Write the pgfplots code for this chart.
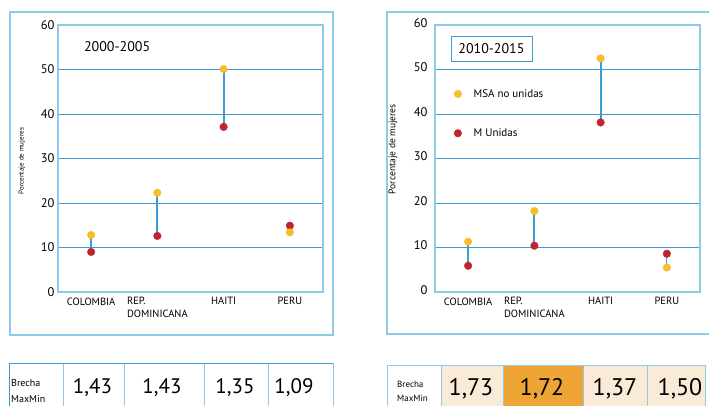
\documentclass[border=0pt]{standalone}
\usepackage{fontspec}
\setmainfont{PT Sans}
\usepackage{pgfplots}
\pgfplotsset{compat=1.18}
\definecolor{gridblue}{HTML}{3A9BD5}
\definecolor{frameblue}{HTML}{8DCAE8}
\definecolor{dotyellow}{HTML}{F6BE28}
\definecolor{dotred}{HTML}{BF2530}
\definecolor{cream}{HTML}{FAEBD8}
\definecolor{orangec}{HTML}{EEA535}
\pgfplotsset{
  dumb/.style={
    scale only axis, width=265pt, height=267pt,
    xmin=-0.5, xmax=3.5, ymin=0, ymax=60,
    ytick={0,10,...,60},
    xtick={0,1,2,3},
    xticklabels={COLOMBIA,{REP.\\DOMINICANA},HAITI,PERU},
    ymajorgrids, grid style={gridblue, line width=0.9pt},
    axis line style={frameblue, line width=1.1pt},
    major tick length=0pt,
    yticklabel style={font=\fontsize{12.5}{14}\selectfont},
    xticklabel style={font=\fontsize{10.5}{12.5}\selectfont, align=left, anchor=north, yshift=-2pt},
    /pgf/number format/assume math mode=true,
    clip=false,
  },
  conn/.style={gridblue, line width=2pt, forget plot},
  ydot/.style={only marks, mark=*, mark size=3.8pt, color=dotyellow, forget plot},
  rdot/.style={only marks, mark=*, mark size=3.8pt, color=dotred, forget plot},
}
\begin{document}
\begin{tikzpicture}
\useasboundingbox (0,0) rectangle (709pt,406pt);
% ---------------- left panel ----------------
\begin{axis}[dumb, at={(58pt,114pt)}, anchor=south west,
  ylabel={Porcentaje de mujeres},
  ylabel style={at={(axis description cs:-0.136,0.49)}, anchor=center, font=\fontsize{7}{8}\selectfont}]
\addplot[conn] coordinates {(0,12.8) (0,9.0)};
\addplot[conn] coordinates {(1,22.3) (1,12.6)};
\addplot[conn] coordinates {(2,50.1) (2,37.1)};
\addplot[conn] coordinates {(3,14.9) (3,13.4)};
\addplot[rdot] coordinates {(0,9.0) (1,12.6) (2,37.1) (3,14.9)};
\addplot[ydot] coordinates {(0,12.8) (1,22.3) (2,50.1) (3,13.4)};
\node[anchor=west, font=\fontsize{14}{16}\selectfont] at (rel axis cs:0.085,0.918) {2000-2005};
\end{axis}
% ---------------- right panel ----------------
\begin{axis}[dumb, at={(435pt,114pt)}, anchor=south west,
  yticklabel style={xshift=-4pt, yshift=2pt},
  ylabel={Porcentaje de mujeres},
  ylabel style={at={(axis description cs:-0.158,0.535)}, anchor=center, font=\fontsize{9.5}{11}\selectfont},
  legend style={at={(rel axis cs:0.06,0.775)}, anchor=north west, draw=none, fill=none,
    font=\fontsize{11}{13}\selectfont, row sep=26pt,
    /tikz/every odd column/.append style={column sep=10pt}},
  legend cell align=left]
\addlegendimage{only marks, mark=*, mark size=3.8pt, color=dotyellow}
\addlegendentry{MSA no unidas}
\addlegendimage{only marks, mark=*, mark size=3.8pt, color=dotred}
\addlegendentry{M Unidas}
\addplot[conn] coordinates {(0,11.3) (0,5.9)};
\addplot[conn] coordinates {(1,18.2) (1,10.4)};
\addplot[conn] coordinates {(2,52.5) (2,38.1)};
\addplot[conn, line width=1.2pt] coordinates {(3,8.6) (3,5.5)};
\addplot[rdot] coordinates {(0,5.9) (1,10.4) (2,38.1) (3,8.6)};
\addplot[ydot] coordinates {(0,11.3) (1,18.2) (2,52.5) (3,5.5)};
\node[draw=gridblue, line width=0.8pt, fill=white, minimum width=81pt, minimum height=25pt, inner sep=0pt,
  font=\fontsize{14}{16}\selectfont] at (rel axis cs:0.213,0.912) {2010-2015};
\end{axis}
% ---------------- outer frames ----------------
\draw[frameblue, line width=1.5pt] (10pt,71pt) rectangle (333pt,394pt);
\draw[frameblue, line width=1.5pt] (387pt,72pt) rectangle (716pt,394pt);
% ---------------- left table ----------------
\draw[frameblue, line width=1pt] (9pt,-5pt) rectangle (333pt,42pt);
\foreach \x in {63,124,204,268} \draw[frameblue, line width=1pt] (\x pt,-5pt) -- (\x pt,42pt);
\draw[gridblue, line width=1pt] (9pt,-5pt) -- (9pt,42pt) -- (333pt,42pt);
\node[anchor=west, font=\fontsize{10}{12}\selectfont, inner sep=0pt] at (11pt,23pt) {Brecha};
\node[anchor=west, font=\fontsize{10}{12}\selectfont, inner sep=0pt] at (11pt,7pt) {MaxMin};
\foreach \x/\v in {92.5/{1,43},162/{1,43},235/{1,35},294/{1,09}}
  \node[font=\fontsize{21}{24}\selectfont, inner sep=0pt] at (\x pt,18pt) {\v};
% ---------------- right table ----------------
\fill[cream] (441pt,-5pt) rectangle (503pt,40pt);
\fill[orangec] (503pt,-5pt) rectangle (583pt,40pt);
\fill[cream] (583pt,-5pt) rectangle (705pt,40pt);
\draw[frameblue, line width=1pt] (387pt,-5pt) rectangle (705pt,40pt);
\foreach \x in {441,503,583,647} \draw[frameblue, line width=1pt] (\x pt,-5pt) -- (\x pt,40pt);
\node[anchor=west, font=\fontsize{9}{11}\selectfont, inner sep=0pt] at (397pt,22pt) {Brecha};
\node[anchor=west, font=\fontsize{9}{11}\selectfont, inner sep=0pt] at (397pt,8pt) {MaxMin};
\foreach \x/\v in {471/{1,73},542/{1,72},615/{1,37},680/{1,50}}
  \node[font=\fontsize{24}{28}\selectfont, inner sep=0pt] at (\x pt,17pt) {\v};
\end{tikzpicture}
\end{document}
